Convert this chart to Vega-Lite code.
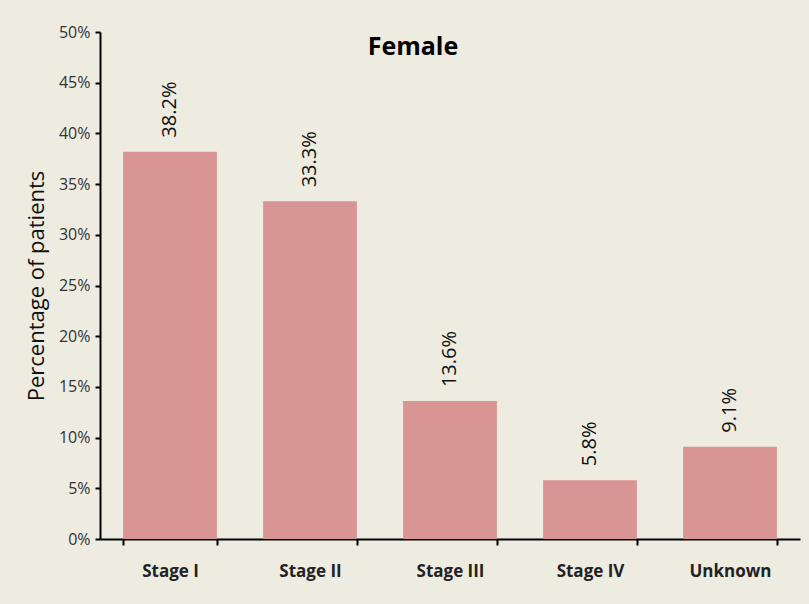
{
  "$schema": "https://vega.github.io/schema/vega-lite/v6.json",
  "width": 700,
  "height": 507,
  "autosize": {"type": "none"},
  "padding": {"left": 100, "top": 32, "right": 9, "bottom": 65},
  "background": "#eeebe1",
  "title": {
    "text": "Female",
    "font": "Open Sans",
    "fontSize": 25,
    "fontWeight": "bold",
    "color": "#000000",
    "anchor": "middle",
    "baseline": "top",
    "offset": -36,
    "dx": -37
  },
  "data": {
    "values": [
      {"stage": "Stage I", "pct": 0.382},
      {"stage": "Stage II", "pct": 0.333},
      {"stage": "Stage III", "pct": 0.136},
      {"stage": "Stage IV", "pct": 0.058},
      {"stage": "Unknown", "pct": 0.091}
    ]
  },
  "encoding": {
    "x": {
      "field": "stage",
      "type": "nominal",
      "sort": null,
      "scale": {"paddingInner": 0.33, "paddingOuter": 0.165},
      "axis": {
        "title": null,
        "labelAngle": 0,
        "labelFont": "Open Sans",
        "labelFontSize": 17,
        "labelFontWeight": "bold",
        "labelColor": "#222222",
        "labelPadding": 18,
        "tickBand": "extent",
        "tickSize": 6,
        "tickColor": "#000000",
        "domainColor": "#000000",
        "domainWidth": 2,
        "tickWidth": 2
      }
    },
    "y": {
      "field": "pct",
      "type": "quantitative",
      "scale": {"domain": [0, 0.5]},
      "axis": {
        "title": "Percentage of patients",
        "titleFont": "Open Sans",
        "titleFontSize": 22,
        "titleFontWeight": "normal",
        "titleColor": "#111111",
        "titlePadding": 10,
        "values": [0, 0.05, 0.1, 0.15, 0.2, 0.25, 0.3, 0.35, 0.4, 0.45, 0.5],
        "format": ".0%",
        "labelFont": "Open Sans",
        "labelFontSize": 16,
        "labelColor": "#333333",
        "labelPadding": 5,
        "grid": false,
        "tickSize": 5,
        "tickColor": "#000000",
        "tickWidth": 2,
        "domainColor": "#000000",
        "domainWidth": 2
      }
    }
  },
  "layer": [
    {"mark": {"type": "bar", "color": "#d99594"}},
    {
      "mark": {
        "type": "text",
        "angle": -90,
        "align": "left",
        "baseline": "middle",
        "dx": 14,
        "font": "Open Sans",
        "fontSize": 20,
        "color": "#111111"
      },
      "encoding": {
        "text": {"field": "pct", "type": "quantitative", "format": ".1%"}
      }
    }
  ],
  "config": {"view": {"stroke": null}}
}
